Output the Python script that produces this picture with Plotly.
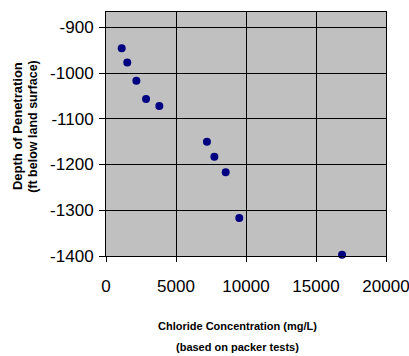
import plotly.graph_objects as go

chloride = [1120, 1520, 2170, 2860, 3810, 7210, 7740, 8550, 9520, 16860]
depth = [-946, -977, -1017, -1057, -1072, -1150, -1183, -1217, -1317, -1397]
x_ticks = [0, 5000, 10000, 15000, 20000]
y_ticks = [-1400, -1300, -1200, -1100, -1000, -900]

FONT = "Liberation Sans, Arial, sans-serif"

fig = go.Figure(go.Scatter(
    x=chloride, y=depth, mode="markers",
    marker=dict(color="#000080", size=8),
    cliponaxis=False,
))

fig.update_layout(
    width=409, height=356,
    margin=dict(l=106, r=23, t=12, b=100),
    plot_bgcolor="#c0c0c0", paper_bgcolor="white",
    showlegend=False,
    font=dict(family=FONT, color="black"),
)
fig.update_xaxes(
    range=[0, 20000], tickvals=x_ticks, ticktext=[str(v) for v in x_ticks],
    showgrid=True, gridcolor="black", gridwidth=1,
    showline=True, linecolor="black", linewidth=1, mirror=True,
    ticks="outside", ticklen=5, tickcolor="black",
    tickfont=dict(size=17, family=FONT), zeroline=False,
    ticklabeloverflow="allow", ticklabelstandoff=10, automargin=False,
)
fig.update_yaxes(
    range=[-1400, -866.6], tickvals=y_ticks, ticktext=[str(v) for v in y_ticks],
    showgrid=True, gridcolor="black", gridwidth=1,
    showline=True, linecolor="black", linewidth=1, mirror=True,
    ticks="outside", ticklen=6, tickcolor="black",
    tickfont=dict(size=17, family=FONT), zeroline=False, automargin=False,
    ticklabelstandoff=2,
)
fig.add_annotation(
    text="<b>Depth of Penetration</b>",
    xref="paper", yref="paper", x=-0.314, y=0.533, xanchor="center", yanchor="middle",
    textangle=-90, showarrow=False, font=dict(size=13, family=FONT),
)
fig.add_annotation(
    text="<b>(ft below land surface)</b>",
    xref="paper", yref="paper", x=-0.261, y=0.533, xanchor="center", yanchor="middle",
    textangle=-90, showarrow=False, font=dict(size=12.5, family=FONT),
)
fig.add_annotation(
    text="<b>Chloride Concentration (mg/L)</b>",
    xref="paper", yref="paper", x=0.468, y=-0.287, xanchor="center", yanchor="middle",
    showarrow=False, font=dict(size=11, family=FONT),
)
fig.add_annotation(
    text="<b>(based on packer tests)</b>",
    xref="paper", yref="paper", x=0.468, y=-0.373, xanchor="center", yanchor="middle",
    showarrow=False, font=dict(size=11, family=FONT),
)

fig.write_html("out.html")
